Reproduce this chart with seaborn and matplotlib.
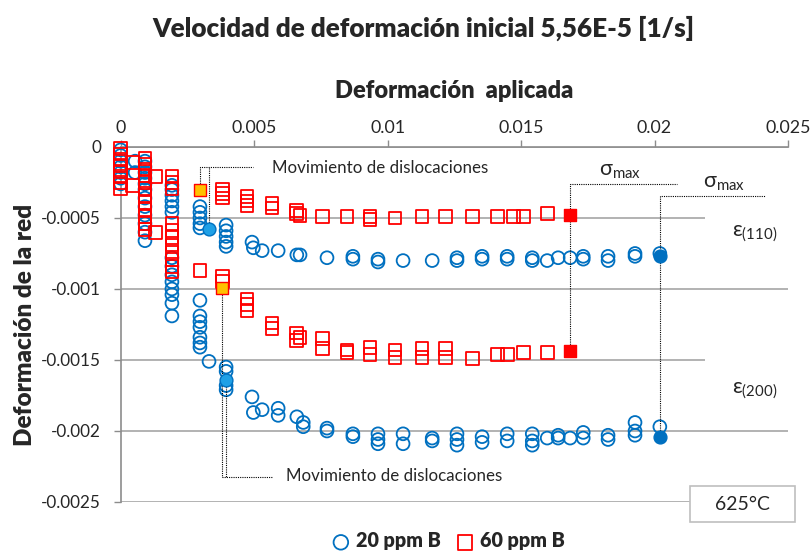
import matplotlib
matplotlib.use("Agg")
import matplotlib.pyplot as plt
from matplotlib.patches import Rectangle
from matplotlib.ticker import FuncFormatter
import seaborn as sns
import pandas as pd

# ---------------- data ----------------
b110_x = [0, 0, 0, 0, 0, 0, 0, 0.00054, 0.00054,
          0.00091, 0.00091, 0.00091, 0.00091, 0.00091,
          0.00192, 0.00192, 0.00192, 0.00192, 0.00192, 0.00192,
          0.00297, 0.00297, 0.00297, 0.00297, 0.00297,
          0.00395, 0.00395, 0.00395, 0.00395, 0.00395,
          0.00492, 0.00497, 0.0053, 0.0059, 0.0066, 0.00672, 0.00773,
          0.0087, 0.0087, 0.00964, 0.00964, 0.01058, 0.01167,
          0.0126, 0.0126, 0.01354, 0.01354, 0.01448, 0.01448,
          0.01542, 0.01542, 0.01598, 0.01639, 0.01684,
          0.01733, 0.01733, 0.01826, 0.01826, 0.01927, 0.01927, 0.0202]
b110_y = [-0.00002, -0.00006, -0.0001, -0.00014, -0.00018, -0.00022, -0.00026, -0.0001, -0.00018,
          -0.0001, -0.00014, -0.00018, -0.00022, -0.00026,
          -0.00027, -0.0003, -0.00034, -0.00038, -0.00042, -0.00046,
          -0.00042, -0.00046, -0.0005, -0.00054, -0.00057,
          -0.00055, -0.00059, -0.00063, -0.00067, -0.0007,
          -0.00067, -0.00071, -0.00073, -0.00073, -0.00076, -0.00076, -0.00078,
          -0.00077, -0.00079, -0.00079, -0.00081, -0.0008, -0.0008,
          -0.00078, -0.0008, -0.00077, -0.00079, -0.00077, -0.00079,
          -0.00078, -0.0008, -0.0008, -0.00078, -0.00078,
          -0.00077, -0.00079, -0.00077, -0.0008, -0.00075, -0.00077, -0.00075]

b200_x = [0.00091, 0.00091, 0.00091, 0.00091, 0.00091, 0.00091, 0.00091,
          0.00192, 0.00192, 0.00192, 0.00192, 0.00192, 0.00192, 0.00192, 0.00192,
          0.00297, 0.00297, 0.00297, 0.00297, 0.00297, 0.00297, 0.00297,
          0.00331, 0.00395, 0.00395, 0.00395, 0.00395,
          0.00492, 0.00497, 0.0053, 0.0059, 0.0059, 0.0066, 0.00684, 0.00684,
          0.00773, 0.00773, 0.0087, 0.0087, 0.00964, 0.00964, 0.00964,
          0.01058, 0.01058, 0.01167, 0.01167, 0.0126, 0.0126, 0.0126,
          0.01354, 0.01354, 0.01448, 0.01448, 0.01542, 0.01542, 0.01542,
          0.01598, 0.01639, 0.01639, 0.01684, 0.01733, 0.01733,
          0.01826, 0.01826, 0.01927, 0.01927, 0.01927, 0.0202]
b200_y = [-0.0003, -0.00036, -0.00042, -0.00048, -0.00054, -0.0006, -0.00066,
          -0.00078, -0.00084, -0.0009, -0.00095, -0.001, -0.00104, -0.0011, -0.00119,
          -0.00108, -0.00119, -0.00123, -0.00127, -0.00134, -0.00138, -0.00141,
          -0.00151, -0.00155, -0.00158, -0.00168, -0.00171,
          -0.00176, -0.00187, -0.00185, -0.00184, -0.00189, -0.0019, -0.00194, -0.00197,
          -0.00198, -0.002, -0.00202, -0.00204, -0.00202, -0.00206, -0.00209,
          -0.00202, -0.00209, -0.00205, -0.00207, -0.00202, -0.00206, -0.0021,
          -0.00204, -0.00208, -0.00202, -0.00207, -0.00202, -0.00207, -0.0021,
          -0.00205, -0.00203, -0.00205, -0.00205, -0.00201, -0.00205,
          -0.00203, -0.00206, -0.00194, -0.002, -0.00203, -0.00197]

r110_x = [0, 0, 0, 0, 0, 0, 0.00043, 0.00043, 0.0013,
          0.00091, 0.00091, 0.00091, 0.00091, 0.00091,
          0.00192, 0.00192, 0.00192,
          0.0038, 0.0038, 0.0038, 0.00473, 0.00473, 0.00473,
          0.00567, 0.00567, 0.0066, 0.0066, 0.00672, 0.00755, 0.00848,
          0.00934, 0.00934, 0.01028, 0.01129, 0.01216, 0.01317,
          0.01411, 0.01471, 0.01508, 0.01598]
r110_y = [-0.00001, -0.00005, -0.00009, -0.00013, -0.00017, -0.00021, -0.00011, -0.00027, -0.00021,
          -0.00008, -0.00012, -0.00016, -0.0002, -0.00024,
          -0.00021, -0.00025, -0.00029,
          -0.0003, -0.00033, -0.00036, -0.00035, -0.00038, -0.00041,
          -0.0004, -0.00043, -0.00045, -0.00047, -0.00048, -0.00049, -0.00049,
          -0.00049, -0.00051, -0.0005, -0.00049, -0.00049, -0.00049,
          -0.00049, -0.00049, -0.00049, -0.00047]

r200_x = [0, 0, 0.00091, 0.00091, 0.00091, 0.00091, 0.00091, 0.00091, 0.00091, 0.0013,
          0.00192, 0.00192, 0.00192, 0.00192, 0.00192, 0.00192, 0.00192, 0.00192,
          0.00297, 0.0038, 0.0038, 0.00473, 0.00473, 0.00473,
          0.00567, 0.00567, 0.0066, 0.0066, 0.00672, 0.00755, 0.00755,
          0.00848, 0.00848, 0.00934, 0.00934, 0.01028, 0.01028,
          0.01129, 0.01129, 0.01216, 0.01216, 0.01317,
          0.01411, 0.01448, 0.01508, 0.01598]
r200_y = [-0.00025, -0.00029, -0.00029, -0.00034, -0.00039, -0.00044, -0.00049, -0.00054, -0.00058, -0.0006,
          -0.00054, -0.00059, -0.00064, -0.00069, -0.00074, -0.00079, -0.00084, -0.00088,
          -0.00087, -0.00091, -0.00095, -0.00107, -0.00111, -0.00115,
          -0.00124, -0.00128, -0.00131, -0.00136, -0.00134, -0.00135, -0.00142,
          -0.00143, -0.00145, -0.00141, -0.00146, -0.00143, -0.00148,
          -0.00142, -0.00148, -0.00142, -0.00148, -0.00149,
          -0.00146, -0.00146, -0.00145, -0.00145]

# onset of dislocation movement and maximum stress points
onset20_x = [0.00331, 0.00395]
onset20_y = [-0.00058, -0.00164]
onset60_x = [0.00297, 0.0038]
onset60_y = [-0.0003, -0.00099]
smax20_x = [0.0202, 0.0202]
smax20_y = [-0.00077, -0.00204]
smax60_x = [0.01684, 0.01684]
smax60_y = [-0.00048, -0.00144]

xticks = [0, 0.005, 0.01, 0.015, 0.02, 0.025]
yticks = [0, -0.0005, -0.001, -0.0015, -0.002, -0.0025]

series_names = ["20 ppm B", "60 ppm B"]
title = "Velocidad de deformación inicial 5,56E-5 [1/s]"
xlabel = "Deformación  aplicada"
ylabel = "Deformación de la red"
note_text = "Movimiento de dislocaciones"
temp_text = "625°C"

# ---------------- style ----------------
sns.set_style("white")
plt.rcParams["font.family"] = ["Lato", "DejaVu Sans"]
plt.rcParams["mathtext.fontset"] = "custom"
plt.rcParams["mathtext.rm"] = "Lato"
plt.rcParams["mathtext.it"] = "Lato:italic"

BLUE = "#0070C0"
RED = "#FF0000"
LBLUE = "#1FA0E6"
ORANGE = "#FFC000"
GRID = "#A6A6A6"
SPINE = "#8C8C8C"

fig = plt.figure(figsize=(8.11, 5.54), dpi=100)
ax = fig.add_axes([0.1488, 0.0939, 0.8228, 0.6408])

df20 = pd.DataFrame({"x": b110_x + b200_x, "y": b110_y + b200_y})
df60 = pd.DataFrame({"x": r110_x + r200_x, "y": r110_y + r200_y})

ms = 85
sns.scatterplot(data=df20, x="x", y="y", ax=ax, marker="o", s=ms,
                color=BLUE, facecolor="none", edgecolor=BLUE, linewidth=1.3,
                clip_on=False, zorder=3, label=series_names[0])
sns.scatterplot(data=df60, x="x", y="y", ax=ax, marker="s", s=ms,
                color=RED, facecolor="none", edgecolor=RED, linewidth=1.3,
                clip_on=False, zorder=4, label=series_names[1])

sns.scatterplot(x=onset20_x, y=onset20_y, ax=ax, marker="o", s=ms, color=LBLUE,
                edgecolor=BLUE, linewidth=1.0, zorder=6, legend=False)
sns.scatterplot(x=onset60_x, y=onset60_y, ax=ax, marker="s", s=ms, color=ORANGE,
                edgecolor=RED, linewidth=1.0, zorder=6, legend=False)
sns.scatterplot(x=smax20_x, y=smax20_y, ax=ax, marker="o", s=ms, color=BLUE,
                edgecolor=BLUE, linewidth=1.0, zorder=6, legend=False)
sns.scatterplot(x=smax60_x, y=smax60_y, ax=ax, marker="s", s=ms, color=RED,
                edgecolor=RED, linewidth=1.0, zorder=6, legend=False)

ax.set_xlim(xticks[0], xticks[-1])
ax.set_ylim(yticks[-1], yticks[0])
ax.set_xticks(xticks)
ax.set_yticks(yticks)
fmt = FuncFormatter(lambda v, p: "%g" % v)
ax.xaxis.set_major_formatter(fmt)
ax.yaxis.set_major_formatter(fmt)
ax.xaxis.tick_top()
ax.xaxis.set_label_position("top")
ax.tick_params(axis="x", which="both", direction="out", length=5, width=1,
               color=SPINE, pad=3, labelsize=12.8, top=True, bottom=False)
ax.tick_params(axis="y", direction="out", length=5, width=1, color=SPINE,
               pad=9, labelsize=12.3, left=True)

ax.grid(axis="y", color=GRID, linewidth=1.2)
ax.grid(axis="x", visible=False)
ax.set_axisbelow(True)
for side in ["right", "bottom"]:
    ax.spines[side].set_visible(False)
for side in ["top", "left"]:
    ax.spines[side].set_color(SPINE)
    ax.spines[side].set_linewidth(1.2)

ax.set_xlabel(xlabel, fontsize=17, fontweight="heavy", labelpad=16)
ax.set_ylabel(ylabel, fontsize=17.5, fontweight="heavy", labelpad=4)
fig.suptitle(title, fontsize=18.8, fontweight="heavy", x=0.522, y=0.972, va="top")

# white label boxes over gridlines (right side)
for yb0, yb1 in [(-0.00041, -0.0008), (-0.00148, -0.00191)]:
    ax.add_patch(Rectangle((0.0219, yb1), 0.004, yb0 - yb1, facecolor="white",
                           edgecolor="none", zorder=1.5, clip_on=False))
ax.text(0.02375, -0.00061, r"ε$_{\mathrm{(110)}}$", fontsize=15.5, ha="center",
        va="center", zorder=7)
ax.text(0.02375, -0.00172, r"ε$_{\mathrm{(200)}}$", fontsize=15.5, ha="center",
        va="center", zorder=7)

# annotation connectors
lk = dict(color="black", linestyle=(0, (1, 1)), linewidth=0.8, zorder=5)
y_up = -0.000141
ax.plot([onset60_x[0], onset60_x[0], 0.00496], [onset60_y[0], y_up, y_up], **lk)
ax.plot([onset20_x[0], onset20_x[0]], [onset20_y[0], y_up], **lk)
ax.text(0.00567, y_up - 0.00001, note_text, fontsize=12.2, va="center", ha="left")

y_lo = -0.002324
ax.plot([onset60_x[1], onset60_x[1], 0.00571], [onset60_y[1], y_lo, y_lo], **lk)
ax.plot([onset20_x[1], onset20_x[1]], [onset20_y[1], y_lo], **lk)
ax.text(0.0062, y_lo + 0.00001, note_text, fontsize=12.2, va="center", ha="left")

y_s1 = -0.00026
ax.plot([smax60_x[1], smax60_x[1], 0.02085], [smax60_y[1], y_s1, y_s1], **lk)
ax.text(0.01872, y_s1 + 0.00002, r"σ$_{\mathrm{max}}$", fontsize=15.5, ha="center", va="bottom")
y_s2 = -0.000345
ax.plot([smax20_x[1], smax20_x[1], 0.02415], [smax20_y[1], y_s2, y_s2], **lk)
ax.text(0.02262, y_s2 + 0.00002, r"σ$_{\mathrm{max}}$", fontsize=15.5, ha="center", va="bottom")

# temperature box
fig.patches.append(Rectangle((690 / 811, 1 - 522 / 554), 105 / 811, 36 / 554,
                             transform=fig.transFigure, facecolor="white",
                             edgecolor="#BFBFBF", linewidth=1.2, zorder=5))
fig.text(742 / 811, 1 - 504 / 554, temp_text, fontsize=14, ha="center",
         va="center", zorder=6)

# legend
leg = ax.legend(loc="center", bbox_to_anchor=(443 / 811, 1 - 541 / 554),
                bbox_transform=fig.transFigure, ncol=2, frameon=False,
                handletextpad=-0.25, columnspacing=0.25, borderaxespad=0,
                prop={"weight": "heavy", "size": 14.2})
for h in leg.legend_handles:
    h.set_sizes([110])

fig.savefig("out.png", dpi=100)
